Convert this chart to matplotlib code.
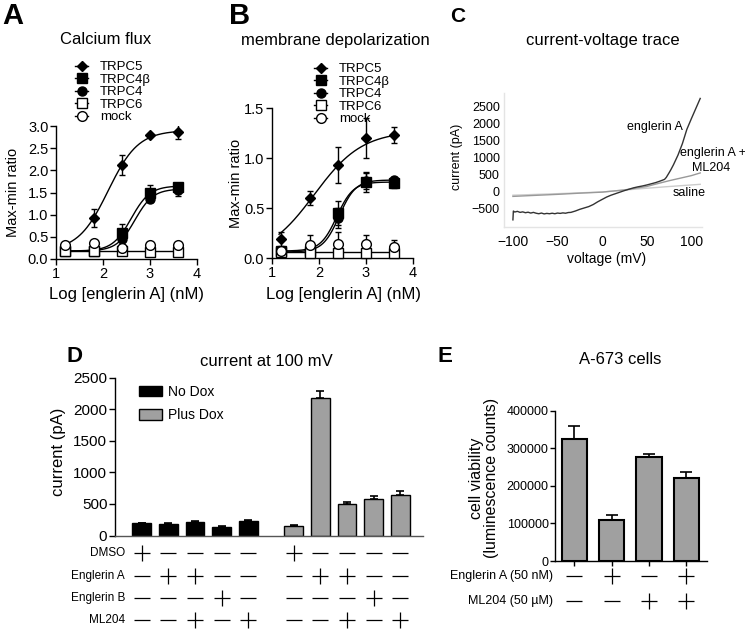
import numpy as np
import matplotlib
matplotlib.use('Agg')
import matplotlib.pyplot as plt
from matplotlib.lines import Line2D
from matplotlib.patches import Patch
from matplotlib.transforms import blended_transform_factory

plt.rcParams['font.family'] = ['Liberation Sans', 'DejaVu Sans']
plt.rcParams['axes.linewidth'] = 1.0
plt.rcParams['xtick.major.width'] = 1.0
plt.rcParams['ytick.major.width'] = 1.0

W, H = 745, 629

# ---- A / B: dose response (log nM) ----
log_conc = [1.2, 1.8, 2.4, 3.0, 3.6]
series_names = ['TRPC5', 'TRPC4\u03b2', 'TRPC4', 'TRPC6', 'mock']

ca_trpc5 = [0.22, 0.93, 2.12, 2.80, 2.87]
ca_trpc5_err = [0.03, 0.20, 0.22, 0.03, 0.17]
ca_trpc4b = [0.18, 0.18, 0.58, 1.48, 1.62]
ca_trpc4b_err = [0.02, 0.02, 0.20, 0.20, 0.07]
ca_trpc4 = [0.17, 0.18, 0.45, 1.36, 1.55]
ca_trpc4_err = [0.02, 0.02, 0.05, 0.08, 0.13]
ca_trpc6 = [0.17, 0.17, 0.17, 0.16, 0.15]
ca_trpc6_err = [0.02, 0.02, 0.03, 0.03, 0.03]
ca_mock = [0.31, 0.36, 0.25, 0.32, 0.32]
ca_mock_err = [0.02, 0.02, 0.02, 0.02, 0.02]
# fitted curves: bottom, top, logEC50, hill slope
ca_fits = [(0.18, 2.90, 2.11, 1.36), (0.18, 1.65, 2.60, 2.18),
           (0.18, 1.58, 2.68, 2.25), (0.17, 0.17, 2.5, 1.0), None]

mp_trpc5 = [0.19, 0.60, 0.93, 1.20, 1.23]
mp_trpc5_err = [0.07, 0.07, 0.18, 0.20, 0.08]
mp_trpc4b = [0.07, 0.07, 0.45, 0.76, 0.75]
mp_trpc4b_err = [0.03, 0.03, 0.12, 0.10, 0.05]
mp_trpc4 = [0.06, 0.07, 0.40, 0.77, 0.78]
mp_trpc4_err = [0.02, 0.02, 0.10, 0.08, 0.03]
mp_trpc6 = [0.06, 0.05, 0.05, 0.05, 0.05]
mp_trpc6_err = [0.02, 0.02, 0.02, 0.02, 0.02]
mp_mock = [0.07, 0.13, 0.14, 0.14, 0.11]
mp_mock_err = [0.02, 0.10, 0.12, 0.09, 0.07]
mp_fits = [(0.0, 1.27, 1.90, 0.85), (0.07, 0.76, 2.38, 2.5),
           (0.06, 0.78, 2.43, 2.5), (0.06, 0.06, 2.5, 1.0), None]

# ---- C: current-voltage trace ----
ea_volt = [-100, -99.5, -98, -95, -92, -89, -86, -83, -80, -77, -74, -71, -68,
           -65, -62, -59, -56, -53, -50, -47, -44, -41, -38, -35, -30, -25,
           -20, -15, -10, -5, 0, 5, 10, 15, 20, 25, 30, 35, 40, 45, 50, 55,
           60, 65, 70, 72, 75, 77, 80, 85, 90, 95, 100, 105, 110]
ea_curr = [-820, -560, -590, -570, -600, -585, -610, -595, -620, -600, -625,
           -640, -620, -645, -630, -640, -625, -640, -620, -630, -615, -625,
           -605, -600, -560, -510, -470, -430, -370, -290, -220, -150, -95,
           -50, -5, 40, 80, 120, 150, 175, 205, 240, 275, 320, 370, 430, 560,
           650, 800, 1080, 1420, 1840, 2150, 2450, 2750]
ml_volt = [-100, -75, -50, -25, 0, 25, 50, 60, 75, 90, 100, 110]
ml_curr = [-130, -100, -70, -35, -5, 60, 160, 230, 330, 420, 480, 560]
sal_volt = [-100, -50, 0, 25, 50, 75, 110]
sal_curr = [-95, -50, 0, 55, 110, 160, 225]

# ---- D: current at 100 mV ----
d_nodox = [195, 190, 220, 140, 230]
d_nodox_err = [10, 10, 12, 10, 12]
d_plusdox = [150, 2180, 495, 575, 645]
d_plusdox_err = [12, 115, 40, 50, 55]
d_rows = ['DMSO', 'Englerin A', 'Englerin B', 'ML204']
d_signs = ['+----', '-++--', '---+-', '--+-+']

# ---- E: A-673 viability ----
e_vals = [325000, 109000, 276000, 220000]
e_err = [35000, 13000, 10000, 16000]
e_rows = ['Englerin A (50 nM)', 'ML204 (50 \u00b5M)']
e_signs = ['-+-+', '--++']

fig = plt.figure(figsize=(W / 100, H / 100), dpi=100)


def ax_at(l, t, r, b):
    return fig.add_axes([l / W, 1 - b / H, (r - l) / W, (b - t) / H])


def ftext(x, y, s, **kw):
    kw.setdefault('ha', 'center')
    kw.setdefault('va', 'center')
    fig.text(x / W, 1 - y / H, s, **kw)


def hill(x, p):
    bottom, top, ec, h = p
    return bottom + (top - bottom) / (1 + 10 ** ((ec - x) * h))


styles = [dict(marker='D', ms=5.5, mfc='k', mec='k'),
          dict(marker='s', ms=6.5, mfc='k', mec='k'),
          dict(marker='o', ms=6.5, mfc='k', mec='k'),
          dict(marker='s', ms=6.5, mfc='white', mec='k', mew=1.0),
          dict(marker='o', ms=7, mfc='white', mec='k', mew=1.0)]


def dose_panel(ax, vals, errs, fits, ymax, leg_xy):
    xs = np.linspace(1.15, 3.62, 200)
    for i, (v, e, p) in enumerate(zip(vals, errs, fits)):
        if p is not None:
            ax.plot(xs, hill(xs, p), color='k', lw=1.0, zorder=2)
        ax.errorbar(log_conc, v, yerr=e, fmt='none', ecolor='k',
                    elinewidth=1.0, capsize=2.5, capthick=1.0, zorder=3)
        ax.plot(log_conc, v, ls='none', zorder=4 + i, clip_on=False,
                **styles[i])
    ax.set_xlim(1, 4)
    ax.set_ylim(0, ymax)
    ax.set_xticks([1, 2, 3, 4])
    ax.set_yticks(np.arange(0, ymax + 0.01, 0.5))
    ax.yaxis.set_major_formatter(plt.FormatStrFormatter('%.1f'))
    for s in ['top', 'right']:
        ax.spines[s].set_visible(False)
    ax.tick_params(direction='out', length=4, labelsize=10.5, pad=1.5)
    handles = [Line2D([], [], color='k', lw=1.0, **st) for st in styles]
    ax.legend(handles, series_names, loc='upper left', frameon=False,
              bbox_to_anchor=(leg_xy[0] / W, 1 - leg_xy[1] / H),
              bbox_transform=fig.transFigure, borderpad=0, borderaxespad=0,
              fontsize=9.5, labelspacing=0.02, handlelength=1.0,
              handletextpad=0.9)


axA = ax_at(56, 126, 197, 259)
dose_panel(axA, [ca_trpc5, ca_trpc4b, ca_trpc4, ca_trpc6, ca_mock],
           [ca_trpc5_err, ca_trpc4b_err, ca_trpc4_err, ca_trpc6_err, ca_mock_err],
           ca_fits, 3.0, (75, 61))
ftext(13, 16, 'A', fontsize=21, fontweight='bold')
ftext(106, 40, 'Calcium flux', fontsize=12)
ftext(13, 192, 'Max-min ratio', fontsize=10.5, rotation=90)
ftext(127, 295, 'Log [englerin A] (nM)', fontsize=12)

axB = ax_at(272, 108, 413, 258)
dose_panel(axB, [mp_trpc5, mp_trpc4b, mp_trpc4, mp_trpc6, mp_mock],
           [mp_trpc5_err, mp_trpc4b_err, mp_trpc4_err, mp_trpc6_err, mp_mock_err],
           mp_fits, 1.5, (314, 63))
ftext(240, 16, 'B', fontsize=21, fontweight='bold')
ftext(335, 40, 'membrane depolarization', fontsize=12)
ftext(236, 183, 'Max-min ratio', fontsize=10.5, rotation=90)
ftext(344, 295, 'Log [englerin A] (nM)', fontsize=12)

# ---- C ----
axC = ax_at(504, 93, 702, 227)
axC.plot(sal_volt, sal_curr, color='#cccccc', lw=1.0)
axC.plot(ml_volt, ml_curr, color='#999999', lw=1.0)
axC.plot(ea_volt, ea_curr, color='#333333', lw=1.0)
axC.set_xlim(-110, 112)
axC.set_ylim(-1030, 2910)
axC.set_xticks([-100, -50, 0, 50, 100])
axC.set_yticks([-500, 0, 500, 1000, 1500, 2000, 2500])
for s in ['top', 'right']:
    axC.spines[s].set_visible(False)
for s in ['left', 'bottom']:
    axC.spines[s].set_color('#e4e4e4')
axC.tick_params(axis='x', length=0, labelsize=10, pad=6)
axC.tick_params(axis='y', length=0, labelsize=9, pad=3)
ftext(458, 17, 'C', fontsize=15, fontweight='bold')
ftext(603, 41, 'current-voltage trace', fontsize=12)
ftext(457, 157, 'current (pA)', fontsize=9, rotation=90)
ftext(607, 259, 'voltage (mV)', fontsize=10)
ftext(683, 127, 'englerin A', fontsize=9, ha='right')
ftext(713, 153, 'englerin A +', fontsize=9)
ftext(711, 168, 'ML204', fontsize=9)
ftext(673, 193, 'saline', fontsize=9, ha='left')


def sign_rows(ax, xpos, rows, signs, yrows, ms):
    tr = blended_transform_factory(ax.transData, ax.transAxes)
    for row, y in zip(signs, yrows):
        for x, c in zip(xpos, row):
            ax.plot([x], [y], marker='+' if c == '+' else '_', ms=ms,
                    mew=0.9, color='k', transform=tr, clip_on=False)


# ---- D ----
axD = ax_at(115, 377.7, 423, 535.5)
pos1 = np.arange(len(d_nodox)) + 1.0
pos2 = np.arange(len(d_plusdox)) + 6.7
axD.bar(pos1, d_nodox, width=0.71, color='k', edgecolor='k', lw=1.0,
        label='No Dox')
axD.bar(pos2, d_plusdox, width=0.71, color='#a0a0a0', edgecolor='k', lw=1.0,
        label='Plus Dox')
axD.errorbar(pos1, d_nodox, yerr=[np.zeros(5), d_nodox_err], fmt='none',
             ecolor='k', elinewidth=1.2, capsize=3, capthick=1.2)
axD.errorbar(pos2, d_plusdox, yerr=[np.zeros(5), d_plusdox_err], fmt='none',
             ecolor='k', elinewidth=1.2, capsize=3, capthick=1.2)
axD.set_xlim(0, 11.55)
axD.set_ylim(0, 2500)
axD.set_xticks([])
axD.set_yticks([0, 500, 1000, 1500, 2000, 2500])
for s in ['top', 'right']:
    axD.spines[s].set_visible(False)
axD.spines['bottom'].set_color('#555555')
axD.tick_params(axis='y', direction='out', length=4, labelsize=11, pad=1.5)
axD.legend(handles=[Patch(facecolor='k', edgecolor='k', lw=1.0),
                    Patch(facecolor='#a0a0a0', edgecolor='k', lw=1.0)],
           labels=['No Dox', 'Plus Dox'], loc='upper left', frameon=False,
           bbox_to_anchor=(139 / W, 1 - 385 / H),
           bbox_transform=fig.transFigure, borderpad=0, borderaxespad=0,
           fontsize=10, labelspacing=0.65, handlelength=1.65,
           handleheight=0.8, handletextpad=0.45)
d_yrows = [(535.5 - y) / 157.8 for y in (553, 576, 598, 620)]
sign_rows(axD, np.concatenate([pos1, pos2]), d_rows,
          [s[:5] + s[:5] for s in d_signs], d_yrows, 11)
for lab, y in zip(d_rows, (553, 576, 598, 620)):
    ftext(125, y, lab, fontsize=8.5, ha='right')
ftext(75, 357, 'D', fontsize=16, fontweight='bold')
ftext(266, 361, 'current at 100 mV', fontsize=12)
ftext(59, 452, 'current (pA)', fontsize=12, rotation=90)

# ---- E ----
axE = ax_at(555, 410.7, 707, 561)
epos = np.arange(len(e_vals)) + 1.0
axE.bar(epos, e_vals, width=0.67, color='#a0a0a0', edgecolor='k', lw=1.5)
axE.errorbar(epos, e_vals, yerr=[np.zeros(4), e_err], fmt='none',
             ecolor='k', elinewidth=1.2, capsize=4.5, capthick=1.2)
axE.set_xlim(0.49, 4.55)
axE.set_ylim(0, 400000)
axE.set_xticks(epos)
axE.set_xticklabels([])
axE.set_yticks([0, 100000, 200000, 300000, 400000])
for s in ['top', 'right']:
    axE.spines[s].set_visible(False)
axE.tick_params(direction='out', length=3.5, labelsize=9, pad=1)
e_yrows = [(561 - y) / 150.3 for y in (576, 601)]
sign_rows(axE, epos, e_rows, e_signs, e_yrows, 11)
for lab, y in zip(e_rows, (576, 601)):
    ftext(553, y, lab, fontsize=9, ha='right')
ftext(445, 356, 'E', fontsize=16, fontweight='bold')
ftext(620, 360, 'A-673 cells', fontsize=12)
ftext(484, 478, 'cell viability\n(luminescence counts)', fontsize=11.5,
      rotation=90, linespacing=1.05)

fig.savefig('out.png', dpi=100)
